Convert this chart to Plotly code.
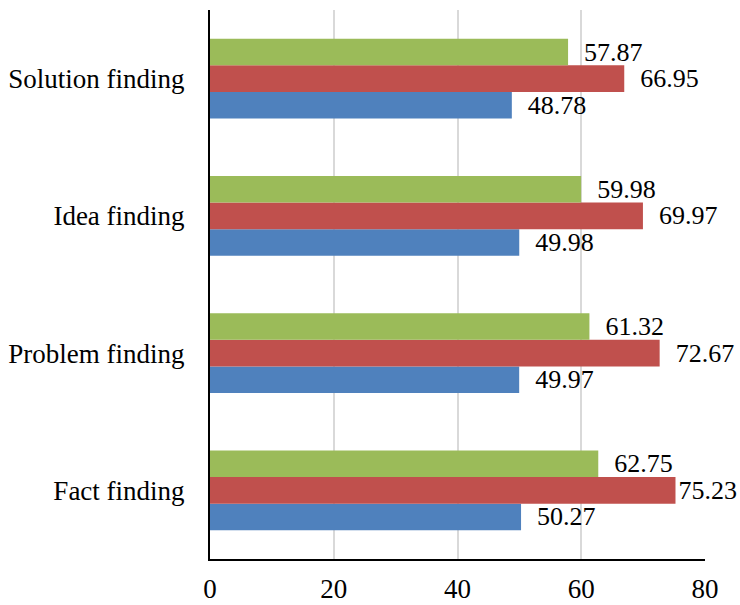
import plotly.graph_objects as go

categories = ["Fact finding", "Problem finding", "Idea finding", "Solution finding"]
series_blue = [50.27, 49.97, 49.98, 48.78]
series_red = [75.23, 72.67, 69.97, 66.95]
series_green = [62.75, 61.32, 59.98, 57.87]
x_ticks = [0, 20, 40, 60, 80]

FONT = "Liberation Serif"
FS = 27
LFS = 26


def label(v):
    pad = "" if v > 74 else "\u00a0\u00a0"
    return f"{pad}{v:.2f}"


fig = go.Figure()
for vals, color in [(series_blue, "#4F81BD"), (series_red, "#C0504D"), (series_green, "#9BBB59")]:
    fig.add_trace(go.Bar(
        y=categories, x=vals, orientation="h",
        marker=dict(color=color, line=dict(width=0)),
        text=[label(v) for v in vals],
        textposition="outside", cliponaxis=False, constraintext="none",
        textfont=dict(family=FONT, size=LFS, color="black"),
        showlegend=False,
    ))

fig.update_layout(
    width=740, height=605,
    margin=dict(l=210, r=35, t=10, b=46, autoexpand=False),
    barmode="group", bargap=0.42, bargroupgap=0,
    plot_bgcolor="white", paper_bgcolor="white",
    font=dict(family=FONT, size=FS, color="black"),
)
fig.update_xaxes(
    range=[0, 80], tickvals=x_ticks, showgrid=True, gridcolor="#D9D9D9", gridwidth=2,
    showline=True, linecolor="black", linewidth=2, zeroline=False, automargin=False,
    ticks="", ticklabelstandoff=5, tickfont=dict(family=FONT, size=FS),
)
fig.update_yaxes(
    showgrid=False, showline=True, linecolor="black", linewidth=2, automargin=False,
    ticks="", ticklabelstandoff=18, tickfont=dict(family=FONT, size=FS),
)

fig.write_html("out.html")
